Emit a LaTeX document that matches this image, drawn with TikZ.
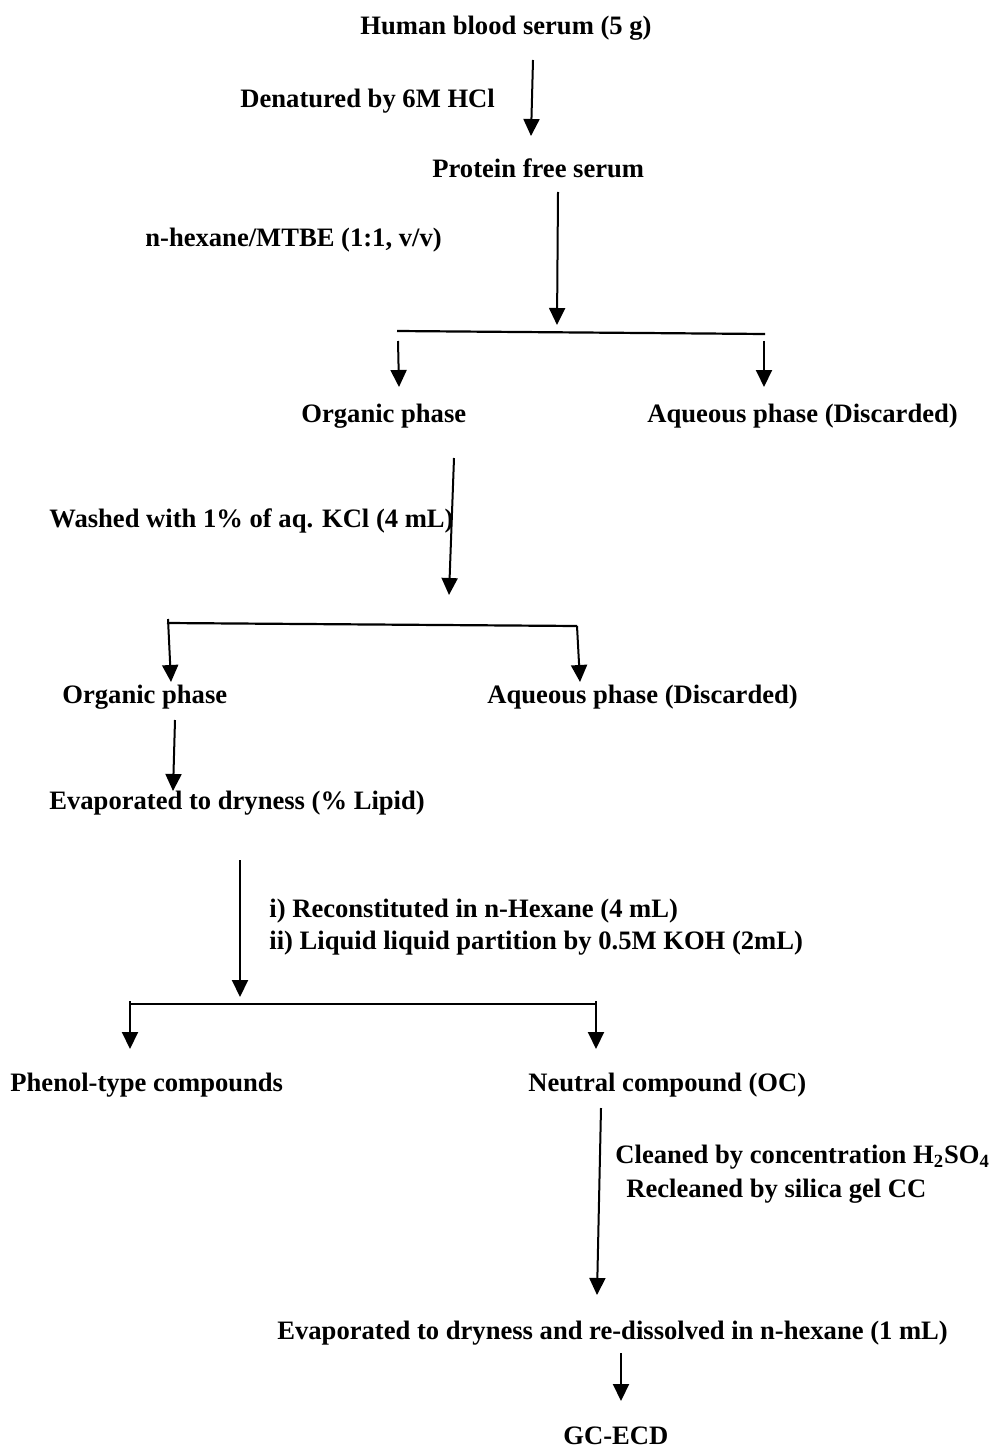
\documentclass[tikz,border=0pt]{standalone}
\usepackage{fontspec}
\setmainfont{Liberation Serif}
\usetikzlibrary{arrows.meta}
\begin{document}
\begin{tikzpicture}[x=0.5pt, y=-0.5pt,
  txt/.style = {anchor=west, inner sep=0pt, font=\fontsize{13.3}{16}\selectfont\bfseries},
  arr/.style = {-{Triangle[length=8.5pt,width=8pt]}, line width=1pt},
  bar/.style = {line width=1.1pt}]
  \useasboundingbox (0,0) rectangle (990,1449);
  \node[txt] (serum) at (360,28) {Human blood serum (5 g)};
  \node[txt] (denat) at (240,101) {Denatured by 6M HCl};
  \node[txt] (pfree) at (432,168) {Protein free serum};
  \node[txt] (mtbe) at (145,240) {n-hexane/MTBE (1:1, v/v)};
  \node[txt] (org1) at (301,416) {Organic phase};
  \node[txt] (aq1) at (647,416) {Aqueous phase (Discarded)};
  \node[txt] (wash) at (49,521) {Washed with 1\% of aq. KCl (4 mL)};
  \node[txt] (org2) at (62,697) {Organic phase};
  \node[txt] (aq2) at (487,697) {Aqueous phase (Discarded)};
  \node[txt] (evap1) at (49,803) {Evaporated to dryness (\% Lipid)};
  \node[txt] (recon) at (269,911) {i) Reconstituted in n-Hexane (4 mL)};
  \node[txt] (koh) at (269,943) {ii) Liquid liquid partition by 0.5M KOH (2mL)};
  \node[txt] (phenol) at (10,1085) {Phenol-type compounds};
  \node[txt] (neutral) at (528,1085) {Neutral compound (OC)};
  \node[txt] (clean1) at (615,1157) {Cleaned by concentration H\textsubscript{2}SO\textsubscript{4}};
  \node[txt] (clean2) at (626,1191) {Recleaned by silica gel CC};
  \node[txt] (evap2) at (277,1333) {Evaporated to dryness and re-dissolved in n-hexane (1 mL)};
  \node[txt] (gc) at (563,1436) {GC-ECD};
  % split points
  \coordinate (b1l) at (397,331); \coordinate (b1r) at (765,334);
  \coordinate (b2l) at (167,623); \coordinate (b2r) at (577,626);
  \coordinate (b3l) at (130,1004); \coordinate (b3r) at (596,1004);
  \draw[bar] (b1l) -- (b1r);
  \draw[bar] (b2l) -- (b2r);
  \draw[bar] (b3l) -- (b3r);
  % arrow ends
  \coordinate (s1) at (533,60);    \coordinate (e1) at (531,136);
  \coordinate (s2) at (558,192);   \coordinate (e2) at (557,325);
  \coordinate (s3) at (398,341);   \coordinate (e3) at (399,387);
  \coordinate (s4) at (764,341);   \coordinate (e4) at (764,387);
  \coordinate (s5) at (454,458);   \coordinate (e5) at (449,595);
  \coordinate (s6) at (168,619);   \coordinate (e6) at (171,682);
  \coordinate (e7) at (580,682);
  \coordinate (s8) at (175,720);   \coordinate (e8) at (173,791);
  \coordinate (s9) at (240,860);   \coordinate (e9) at (240,997);
  \coordinate (s10) at (130,1001); \coordinate (e10) at (130,1049);
  \coordinate (s11) at (596,1001); \coordinate (e11) at (596,1049);
  \coordinate (s12) at (601,1108); \coordinate (e12) at (597,1295);
  \coordinate (s13) at (621,1353); \coordinate (e13) at (621,1401);
  % arrows
  \draw[arr] (s1) -- (e1);
  \draw[arr] (s2) -- (e2);
  \draw[arr] (s3) -- (e3);
  \draw[arr] (s4) -- (e4);
  \draw[arr] (s5) -- (e5);
  \draw[arr] (s6) -- (e6);
  \draw[arr] (b2r) -- (e7);
  \draw[arr] (s8) -- (e8);
  \draw[arr] (s9) -- (e9);
  \draw[arr] (s10) -- (e10);
  \draw[arr] (s11) -- (e11);
  \draw[arr] (s12) -- (e12);
  \draw[arr] (s13) -- (e13);
\end{tikzpicture}
\end{document}
